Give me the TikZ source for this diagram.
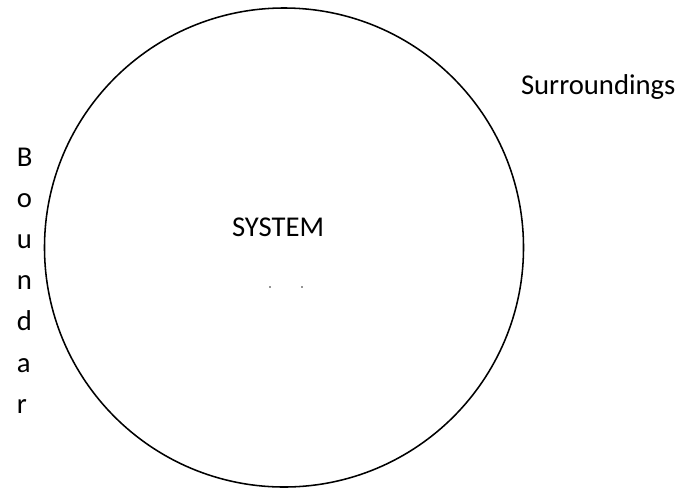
\documentclass[tikz,border=0pt]{standalone}
\usepackage{fontspec}
\setmainfont{Carlito}
\usepackage{tikz}
\usetikzlibrary{positioning}
\definecolor{systemline}{RGB}{0,0,0}
\definecolor{systemdot}{RGB}{40,40,40}

\begin{document}
\begin{tikzpicture}[x=0.025cm,y=-0.025cm,
  lbl/.style={font=\fontsize{20.4}{24}\selectfont,anchor=base west,inner sep=0pt,outer sep=0pt}]
\useasboundingbox (0,0) rectangle (681,488);
% the system itself
\node[circle,draw=systemline,line width=1.1pt,minimum size=479*0.025cm,inner sep=0pt] (sys) at (284,247.5) {};
\node[lbl] (systxt) at (232,236) {SYSTEM};
% two tiny specks under the label
\fill[systemdot] (270,287) circle (0.9);
\fill[systemdot] (302,287) circle (0.9);
% outside
\node[lbl] (surr) at (521,94) {Surroundings};
% boundary, written one letter per line
\foreach \ch [count=\k from 0] in {B,o,u,n,d,a,r} {
  \node[lbl] (bd\k) at (17,{166+41.2*\k}) {\ch};
}
\end{tikzpicture}
\end{document}
